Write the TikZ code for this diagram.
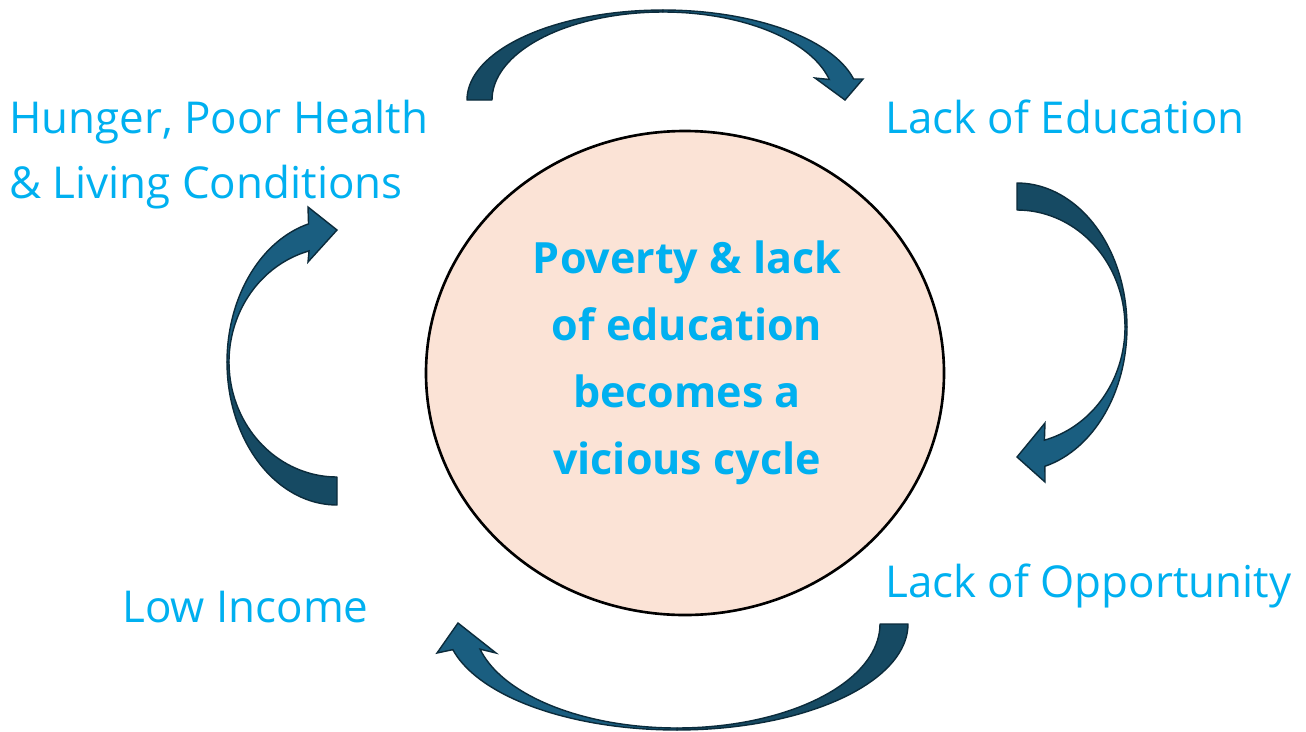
\documentclass[tikz,border=0pt]{standalone}
\usepackage{fontspec}
\setmainfont{Open Sans}
\definecolor{labelblue}{HTML}{00B0F0}
\definecolor{backface}{HTML}{164A63}
\definecolor{frontface}{HTML}{1A5E80}
\definecolor{arrowedge}{HTML}{0B2B3B}
\definecolor{peach}{HTML}{FBE3D6}
\tikzset{
  label/.style={text=labelblue, inner sep=0pt, font=\fontsize{25}{37}\selectfont},
  core/.style={text=labelblue, inner sep=0pt, align=center, font=\fontsize{24.5}{38.1}\selectfont\bfseries},
  backpart/.style={fill=backface, draw=arrowedge, line width=0.8pt, line join=round},
  frontpart/.style={fill=frontface, draw=arrowedge, line width=0.8pt, line join=miter}
}
\begin{document}
\begin{tikzpicture}[x=0.02cm, y=-0.02cm]
\useasboundingbox (0,0) rectangle (1306,731);
\fill[white] (0,0) rectangle (1306,731);
\draw[fill=peach, line width=1.5pt] (685,373) ellipse [x radius=259, y radius=242];
\node[core, anchor=base] (cycle) at (687,474) {Poverty \& lack\\of education\\becomes a\\vicious cycle};
\node[label, anchor=base west, align=left] (hunger) at (9,198) {Hunger, Poor Health\\\& Living Conditions};
\node[label, anchor=base west] (education) at (885,133) {Lack of Education};
\node[label, anchor=base west] (opportunity) at (885,597) {Lack of Opportunity};
\node[label, anchor=base west] (income) at (122,622) {Low Income};
% top arrow
\filldraw[backpart] plot[domain=180:270, samples=40] ({663+196*cos(\x)},{100+90*sin(\x)})
  -- plot[domain=270:180, samples=40] ({663+171*cos(\x)},{100+88*sin(\x)}) -- cycle;
\filldraw[frontpart] plot[domain=270:346.5, samples=40] ({663+196*cos(\x)},{100+90*sin(\x)})
  -- (863,79) -- (845,100) -- (815,78)
  -- plot[domain=346.5:270, samples=40] ({663+171*cos(\x)},{100+88*sin(\x)}) -- cycle;
% right arrow
\filldraw[backpart] plot[domain=-90:0, samples=40] ({1017+110*cos(\x)},{327+144*sin(\x)})
  -- plot[domain=0:-90, samples=40] ({1017+108*cos(\x)},{327+117*sin(\x)}) -- cycle;
\filldraw[frontpart] plot[domain=0:75.3, samples=40] ({1017+110*cos(\x)},{327+144*sin(\x)})
  -- (1045,482) -- (1017,457) -- (1045,423)
  -- plot[domain=75.3:0, samples=40] ({1017+108*cos(\x)},{327+117*sin(\x)}) -- cycle;
% bottom arrow
\filldraw[backpart] plot[domain=0:90, samples=40] ({677+231*cos(\x)},{624+106*sin(\x)})
  -- plot[domain=90:0, samples=40] ({677+203*cos(\x)},{624+104*sin(\x)}) -- cycle;
\filldraw[frontpart] plot[domain=90:166, samples=40] ({677+231*cos(\x)},{624+106*sin(\x)})
  -- (437,653) -- (458,623) -- (496,653)
  -- plot[domain=166:90, samples=40] ({677+203*cos(\x)},{624+104*sin(\x)}) -- cycle;
% left arrow
\filldraw[backpart] plot[domain=90:180, samples=40] ({337+110*cos(\x)},{362+143*sin(\x)})
  -- plot[domain=180:90, samples=40] ({337+108*cos(\x)},{362+115*sin(\x)}) -- cycle;
\filldraw[frontpart] plot[domain=180:255, samples=40] ({337+110*cos(\x)},{362+143*sin(\x)})
  -- (308,207) -- (337,230) -- (308,262)
  -- plot[domain=255:180, samples=40] ({337+108*cos(\x)},{362+115*sin(\x)}) -- cycle;
\end{tikzpicture}
\end{document}
